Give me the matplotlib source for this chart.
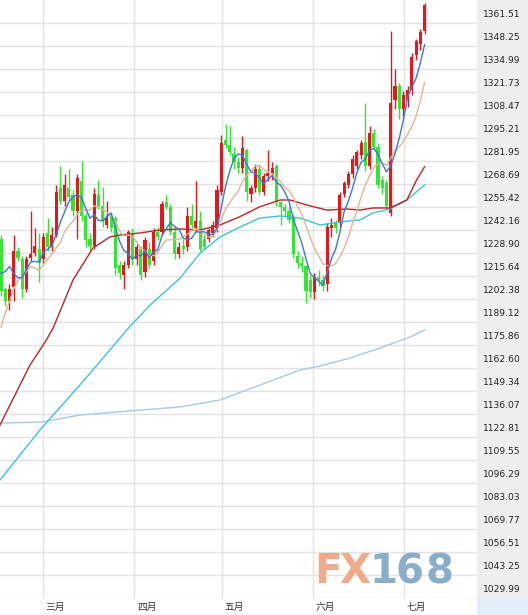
import numpy as np
import pandas as pd
import matplotlib
matplotlib.use("Agg")
import matplotlib.pyplot as plt

# ---------------- data ----------------
opens = [1237, 1208, 1201, 1209, 1230, 1225, 1208, 1226, 1229, 1231,
         1225, 1240, 1232, 1239, 1266, 1259, 1266, 1262, 1253, 1270,
         1250, 1237, 1233, 1262, 1256, 1245, 1250, 1249, 1222, 1216,
         1222, 1240, 1225, 1231, 1218, 1231, 1224, 1241, 1241, 1258,
         1255, 1241, 1228, 1233, 1232, 1250, 1243, 1247, 1237, 1237,
         1240, 1243, 1264, 1294, 1291, 1286, 1281, 1278, 1288, 1263,
         1266, 1277, 1264, 1273, 1274, 1279, 1258, 1255, 1253, 1249,
         1227, 1223, 1221, 1213, 1206, 1215, 1213, 1211, 1243, 1246,
         1246, 1263, 1268, 1274, 1279, 1285, 1293, 1279, 1298, 1290,
         1271, 1269, 1252, 1317, 1325, 1312, 1317, 1323, 1343, 1349,
         1357]
highs = [1239, 1209, 1211, 1239, 1232, 1227, 1227, 1253, 1243, 1240,
         1240, 1249, 1244, 1268, 1279, 1274, 1277, 1265, 1274, 1282,
         1252, 1240, 1266, 1271, 1267, 1259, 1252, 1250, 1224, 1224,
         1242, 1243, 1234, 1233, 1238, 1235, 1243, 1244, 1259, 1262,
         1257, 1243, 1235, 1237, 1255, 1257, 1270, 1253, 1239, 1243,
         1247, 1268, 1297, 1303, 1302, 1290, 1284, 1296, 1289, 1268,
         1280, 1280, 1275, 1288, 1281, 1280, 1259, 1257, 1255, 1251,
         1230, 1227, 1222, 1216, 1217, 1219, 1216, 1246, 1249, 1248,
         1264, 1270, 1276, 1285, 1288, 1294, 1315, 1302, 1300, 1292,
         1273, 1271, 1357, 1335, 1327, 1322, 1325, 1344, 1352, 1358,
         1373]
lows = [1204, 1198, 1196, 1201, 1224, 1203, 1206, 1224, 1227, 1212,
        1223, 1230, 1230, 1238, 1257, 1256, 1259, 1250, 1237, 1247,
        1232, 1230, 1231, 1254, 1244, 1243, 1241, 1216, 1214, 1208,
        1220, 1222, 1222, 1213, 1215, 1220, 1222, 1236, 1239, 1254,
        1239, 1225, 1226, 1228, 1230, 1243, 1241, 1230, 1231, 1235,
        1238, 1241, 1262, 1289, 1285, 1277, 1275, 1275, 1259, 1258,
        1264, 1262, 1262, 1270, 1271, 1256, 1245, 1250, 1246, 1226,
        1220, 1218, 1200, 1203, 1202, 1210, 1207, 1207, 1238, 1240,
        1244, 1261, 1266, 1272, 1277, 1283, 1276, 1277, 1288, 1266,
        1263, 1254, 1250, 1312, 1306, 1308, 1313, 1320, 1340, 1346,
        1355]
closes = [1207, 1201, 1208, 1230, 1226, 1208, 1225, 1228, 1233, 1223,
          1238, 1232, 1239, 1264, 1259, 1268, 1261, 1253, 1272, 1250,
          1236, 1233, 1263, 1256, 1248, 1249, 1243, 1220, 1217, 1222,
          1241, 1225, 1232, 1216, 1236, 1222, 1241, 1238, 1257, 1255,
          1241, 1228, 1232, 1231, 1250, 1245, 1247, 1231, 1232, 1242,
          1245, 1265, 1292, 1291, 1287, 1281, 1278, 1289, 1264, 1266,
          1277, 1264, 1273, 1275, 1278, 1258, 1255, 1253, 1248, 1228,
          1223, 1221, 1207, 1206, 1215, 1213, 1210, 1244, 1245, 1243,
          1262, 1269, 1274, 1283, 1287, 1292, 1279, 1298, 1290, 1268,
          1266, 1256, 1315, 1325, 1312, 1320, 1323, 1342, 1351, 1356,
          1372]

# short moving averages: first values (they need earlier data)
ma5_head = [1217, 1218, 1221, 1217]
ma10_head = [1186, 1194, 1201, 1208, 1213, 1215, 1218, 1221, 1220]

# longer moving averages (candle index, value)
ma30_idx = [-0.24, 3.3, 6.85, 10.4, 12.3, 17.0, 21.7, 25.7, 28.1, 32.8, 37.5, 42.3,
            47.0, 51.7, 56.4, 61.1, 65.9, 68.2, 72.2, 76.9, 81.6, 84.7, 87.8, 91.8,
            95.8, 98.1, 100]
ma30_val = [1129.6, 1146.9, 1164.2, 1177.4, 1185.5, 1213.2, 1231.6, 1238.0, 1239.1,
            1240.3, 1242.0, 1242.6, 1242.0, 1244.9, 1249.7, 1255.4, 1259.3, 1259.3,
            1256.4, 1253.5, 1254.1, 1253.5, 1254.7, 1254.7, 1259.3, 1270.8, 1278.5]
ma60_idx = [-0.24, 9.2, 18.6, 25.7, 29.7, 35.2, 42.3, 47.0, 51.7, 56.4, 61.1, 65.9,
            70.6, 75.3, 80.0, 84.7, 87.8, 91.8, 95.8, 100]
ma60_val = [1097.9, 1126.7, 1152.6, 1172.8, 1184.4, 1198.8, 1214.3, 1228.7, 1238.0,
            1243.7, 1248.9, 1250.1, 1248.9, 1244.9, 1246.6, 1247.8, 1251.8, 1254.1,
            1259.3, 1268.0]
ma200_idx = [-0.24, 9.7, 18.6, 30.5, 42.3, 51.7, 61.1, 70.6, 75.3, 82.4, 89.5, 96.6, 100]
ma200_val = [1130.7, 1131.3, 1135.3, 1137.7, 1140.0, 1144.0, 1152.6, 1161.3, 1163.6,
             1168.2, 1174.0, 1180.3, 1184.4]

y_labels = ["1029.99", "1043.25", "1056.51", "1069.77", "1083.03", "1096.29",
            "1109.55", "1122.81", "1136.07", "1149.34", "1162.60", "1175.86",
            "1189.12", "1202.38", "1215.64", "1228.90", "1242.16", "1255.42",
            "1268.69", "1281.95", "1295.21", "1308.47", "1321.73", "1334.99",
            "1348.25", "1361.51"]
month_labels = ["三月", "四月", "五月", "六月", "七月"]
month_pos = [9.84, 31.4, 52.2, 73.65, 95.1]   # candle index of month gridlines

# ---------------- figure ----------------
W, H = 528, 615
fig = plt.figure(figsize=(W / 100, H / 100), dpi=100)
fig.patch.set_facecolor("white")
ax_w, strip_h = 477, 17

# right label panel and bottom-right corner (behind everything)
fig.patches.append(plt.Rectangle((ax_w / W, strip_h / H), 1 - ax_w / W, 1 - strip_h / H,
                                 transform=fig.transFigure, color="#eeeeee", zorder=-10))
fig.patches.append(plt.Rectangle((ax_w / W, 0), 1 - ax_w / W, strip_h / H,
                                 transform=fig.transFigure, color="#e2effa", zorder=-10))

ax = fig.add_axes([0, strip_h / H, ax_w / W, 1 - strip_h / H])
ax.set_zorder(1)
ax.set_facecolor("white")
for s in ax.spines.values():
    s.set_visible(False)
ax.set_xticks([])
ax.set_yticks([])

ylo, yhi = 1029.85, 1374.6
ax.set_ylim(ylo, yhi)
ax.set_xlim(-0.24, -0.24 + ax_w / 4.236)

# gridlines
for lab in y_labels:
    ax.axhline(float(lab), color="#e2e2e2", lw=1.0, zorder=1)
for mp in month_pos:
    ax.axvline(mp, color="#e2e2e2", lw=1.0, zorder=1)

# candles
o = np.array(opens, float); h = np.array(highs, float)
l = np.array(lows, float); c = np.array(closes, float)
x = np.arange(len(o))
up = c >= o
red, green = "#e8151b", "#2fe82f"
cols = np.where(up, red, green)
ax.vlines(x, l, h, colors=cols, lw=1.0, zorder=3)
body_bot = np.minimum(o, c)
body_h = np.maximum(np.abs(c - o), 0.6)
ax.bar(x, body_h, bottom=body_bot, width=0.74, color=cols, linewidth=0, zorder=4)

# moving averages
cs = pd.Series(c)
ma5 = cs.rolling(5).mean().to_numpy()
ma5[:len(ma5_head)] = ma5_head
ma10 = cs.rolling(10).mean().to_numpy()
ma10[:len(ma10_head)] = ma10_head
ax.plot(ma200_idx, ma200_val, color="#a9c8e6", lw=1.0, zorder=5)
ax.plot(ma60_idx, ma60_val, color="#3cc3d3", lw=1.0, zorder=5)
ax.plot(ma30_idx, ma30_val, color="#b8262a", lw=1.0, zorder=5)
ax.plot(x, ma10, color="#e3b491", lw=1.0, zorder=5)
ax.plot(x, ma5, color="#3a7ad2", lw=1.0, zorder=6)

# y labels (text sits just above each gridline)
ytrans = ax.get_yaxis_transform()
for lab in y_labels:
    ax.annotate(lab, xy=(502 / ax_w, float(lab)), xycoords=ytrans,
                xytext=(0, 8.5), textcoords="offset pixels",
                ha="center", va="center", fontsize=6.6, color="#222222",
                family="DejaVu Sans", annotation_clip=False, zorder=20)

# month labels
xtrans = ax.get_xaxis_transform()
for mp, lab in zip(month_pos, month_labels):
    ax.annotate(lab, xy=(mp, 0), xycoords=xtrans, xytext=(12.5, -9),
                textcoords="offset pixels", ha="center", va="center",
                fontsize=7, color="#333333",
                family=["Noto Sans CJK SC", "DejaVu Sans"], annotation_clip=False)

# watermark
wm = [("F", 328, "#efa98b"), ("X", 355, "#efa98b"), ("1", 383, "#8aadc9"),
      ("6", 410, "#8aadc9"), ("8", 439, "#8aadc9")]
for ch, px, colr in wm:
    fig.text(px / W, 1 - 572 / H, ch, ha="center", va="center", fontsize=29,
             fontweight="bold", color=colr, family="DejaVu Sans", zorder=10)

fig.savefig("out.png", dpi=100)
